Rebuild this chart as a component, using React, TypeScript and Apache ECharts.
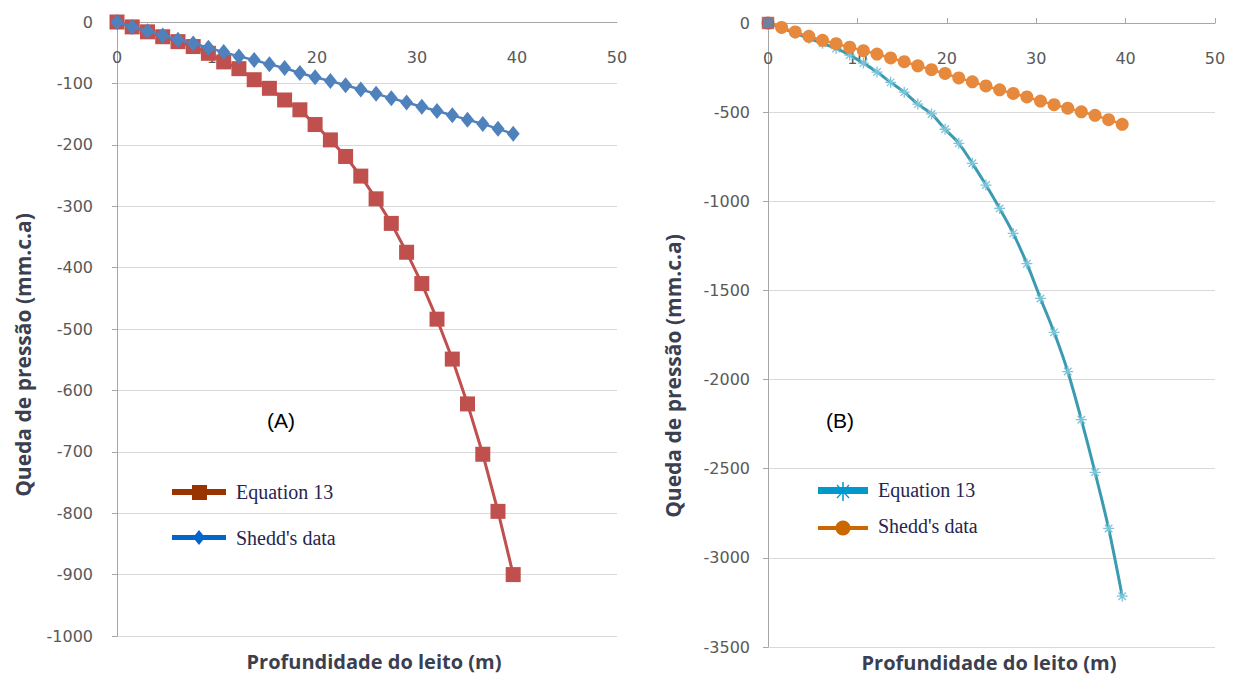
import React, { useEffect, useRef } from "react";
import * as echarts from "echarts";

// Bed depth (m) — shared x positions for all series
const depthM = [0, 1.52, 3.05, 4.57, 6.1, 7.62, 9.14, 10.67, 12.19, 13.72, 15.24, 16.76, 18.29, 19.81, 21.34, 22.86, 24.38, 25.91, 27.43, 28.96, 30.48, 32.0, 33.53, 35.05, 36.58, 38.1, 39.62];

// Chart (A)
const eq13A = [0, -8, -16, -24, -32, -40, -51, -65, -76, -94, -108, -127, -143, -167, -192, -219, -251, -288, -328, -375, -426, -484, -549, -622, -704, -797, -900];
const sheddA = [0, -8, -15, -22, -29, -35, -42, -49, -56, -62, -69, -75, -83, -90, -96, -103, -110, -117, -124, -131, -138, -145, -152, -159, -166, -174, -182];

// Chart (B)
const eq13B = [0, -29, -57, -86, -114, -143, -180, -225, -275, -333, -388, -455, -510, -596, -675, -787, -909, -1040, -1180, -1350, -1545, -1735, -1955, -2225, -2520, -2835, -3215];
const sheddB = [0, -25, -50, -75, -97, -116, -136, -155, -174, -196, -217, -240, -262, -283, -308, -330, -353, -375, -395, -415, -438, -458, -478, -498, -518, -542, -568];
const originB = [[0, 0]];

const xTicks = { min: 0, max: 50, interval: 10 };
const yTicksA = { min: -1000, max: 0, interval: 100 };
const yTicksB = { min: -3500, max: 0, interval: 500 };

const seriesNames = ["Equation 13", "Shedd's data"];
const xTitle = "Profundidade do leito (m)";
const yTitle = "Queda de pressão (mm.c.a)";

const LABEL_FONT = "DejaVu Sans";
const TITLE_FONT = "Open Sans";
const LEGEND_FONT = "Liberation Serif";
const ASTERISK = "path://M5 0 L5 10 M0 5 L10 5 M1.6 1.6 L8.4 8.4 M1.6 8.4 L8.4 1.6";

function pairs(ys: number[]) {
  return depthM.map((d, i) => [d, ys[i]]);
}

export default function App() {
  const ref = useRef<HTMLDivElement>(null);
  useEffect(() => {
    if (!ref.current) return;
    const chart = echarts.init(ref.current, undefined, { renderer: "svg" });
    const labelStyle = { color: "#595959", fontSize: 16, fontFamily: LABEL_FONT, formatter: (v: number) => String(v) };
    const axisLineStyle = { color: "#a6a6a6", width: 1 };
    const gridLine = { color: "#d9d9d9", width: 1 };
    const titleStyle = { font: `bold 20px "${TITLE_FONT}"`, fill: "#3b4050", textAlign: "center", textVerticalAlign: "middle" };
    const yTitleStyle = { font: `bold 21px "${TITLE_FONT}"`, fill: "#3b4050", textAlign: "center", textVerticalAlign: "middle" };
    const legendText = { font: `20px "${LEGEND_FONT}"`, fill: "#262650", textVerticalAlign: "middle" };

    const option: any = {
      animation: false,
      backgroundColor: "#ffffff",
      grid: [
        { left: 117, top: 22, width: 500, height: 614 },
        { left: 768, top: 23, width: 447, height: 624 },
      ],
      xAxis: [0, 1].map((g) => ({
        gridIndex: g,
        type: "value",
        ...xTicks,
        position: "top",
        axisLine: { show: true, onZero: false, lineStyle: axisLineStyle },
        axisTick: { show: g === 1, inside: false, length: 5, lineStyle: axisLineStyle },
        axisLabel: { inside: true, margin: 27, ...labelStyle },
        splitLine: { show: false },
      })),
      yAxis: [
        {
          gridIndex: 0,
          type: "value",
          ...yTicksA,
          axisLine: { show: true, onZero: false, lineStyle: axisLineStyle },
          axisTick: { show: true, length: 5, lineStyle: axisLineStyle },
          axisLabel: { margin: 24, ...labelStyle },
          splitLine: { show: true, lineStyle: gridLine },
        },
        {
          gridIndex: 1,
          type: "value",
          ...yTicksB,
          axisLine: { show: true, onZero: false, lineStyle: axisLineStyle },
          axisTick: { show: true, length: 5, lineStyle: axisLineStyle },
          axisLabel: { margin: 18, ...labelStyle },
          splitLine: { show: true, lineStyle: gridLine },
        },
      ],
      series: [
        {
          name: seriesNames[0],
          type: "line",
          xAxisIndex: 0,
          yAxisIndex: 0,
          data: pairs(eq13A),
          symbol: "rect",
          symbolSize: 15,
          itemStyle: { color: "#c0504d" },
          lineStyle: { color: "#c0504d", width: 3 },
          z: 2,
        },
        {
          name: seriesNames[1],
          type: "line",
          xAxisIndex: 0,
          yAxisIndex: 0,
          data: pairs(sheddA),
          symbol: "diamond",
          symbolSize: [13, 16],
          itemStyle: { color: "#4f81bd" },
          lineStyle: { color: "#4f81bd", width: 2.5 },
          z: 3,
        },
        {
          name: seriesNames[0],
          type: "line",
          xAxisIndex: 1,
          yAxisIndex: 1,
          data: pairs(eq13B),
          smooth: 0.3,
          symbol: ASTERISK,
          symbolSize: 11,
          itemStyle: { color: "rgba(0,0,0,0)", borderColor: "#7cc4d8", borderWidth: 1.3 },
          lineStyle: { color: "#3a9bb2", width: 3 },
          z: 2,
        },
        {
          name: seriesNames[1],
          type: "line",
          xAxisIndex: 1,
          yAxisIndex: 1,
          data: pairs(sheddB),
          symbol: "circle",
          symbolSize: 13,
          itemStyle: { color: "#e6893c" },
          lineStyle: { color: "#e6893c", width: 2.5 },
          z: 3,
        },
        {
          name: "origin",
          type: "scatter",
          xAxisIndex: 1,
          yAxisIndex: 1,
          data: originB,
          symbol: "rect",
          symbolSize: 11,
          itemStyle: { color: "#4f81bd", borderColor: "#c0504d", borderWidth: 1.5 },
          z: 5,
        },
      ],
      graphic: [
        { type: "text", x: 23, y: 355, rotation: Math.PI / 2, style: { text: yTitle, ...yTitleStyle } },
        { type: "text", x: 673, y: 376, rotation: Math.PI / 2, style: { text: yTitle, ...yTitleStyle } },
        { type: "text", x: 374, y: 661, style: { text: xTitle, ...titleStyle } },
        { type: "text", x: 989, y: 662, style: { text: xTitle, ...titleStyle } },
        { type: "text", x: 281, y: 420, style: { text: "(A)", font: '21px "Liberation Sans"', fill: "#000", textAlign: "center", textVerticalAlign: "middle" } },
        { type: "text", x: 840, y: 420, style: { text: "(B)", font: '21px "Liberation Sans"', fill: "#000", textAlign: "center", textVerticalAlign: "middle" } },
        // Legend (A)
        { type: "rect", shape: { x: 172, y: 489, width: 54, height: 6 }, style: { fill: "#993300" } },
        { type: "rect", shape: { x: 192, y: 485, width: 15, height: 15 }, style: { fill: "#993300" } },
        { type: "text", x: 236, y: 492, style: { text: seriesNames[0], ...legendText } },
        { type: "rect", shape: { x: 172, y: 535, width: 54, height: 5 }, style: { fill: "#0066cc" } },
        { type: "polygon", shape: { points: [[199, 530], [205, 537.5], [199, 545], [193, 537.5]] }, style: { fill: "#0066cc" } },
        { type: "text", x: 236, y: 538, style: { text: seriesNames[1], ...legendText } },
        // Legend (B)
        { type: "rect", shape: { x: 818, y: 487, width: 50, height: 7 }, style: { fill: "#0099cc" } },
        { type: "line", shape: { x1: 843, y1: 482, x2: 843, y2: 501 }, style: { stroke: "#0099cc", lineWidth: 1.5 } },
        { type: "line", shape: { x1: 837, y1: 485, x2: 849, y2: 498 }, style: { stroke: "#0099cc", lineWidth: 1.2 } },
        { type: "line", shape: { x1: 837, y1: 498, x2: 849, y2: 485 }, style: { stroke: "#0099cc", lineWidth: 1.2 } },
        { type: "text", x: 878, y: 490, style: { text: seriesNames[0], ...legendText } },
        { type: "rect", shape: { x: 818, y: 526, width: 50, height: 4 }, style: { fill: "#cc6600" } },
        { type: "circle", shape: { cx: 843, cy: 528, r: 7.5 }, style: { fill: "#cc6600" } },
        { type: "text", x: 878, y: 526, style: { text: seriesNames[1], ...legendText } },
      ],
    };
    chart.setOption(option);
    return () => chart.dispose();
  }, []);
  return (
    <div
      ref={ref}
      style={{ position: "absolute", left: 0, top: 0, width: 1236, height: 677, background: "#fff" }}
    />
  );
}
